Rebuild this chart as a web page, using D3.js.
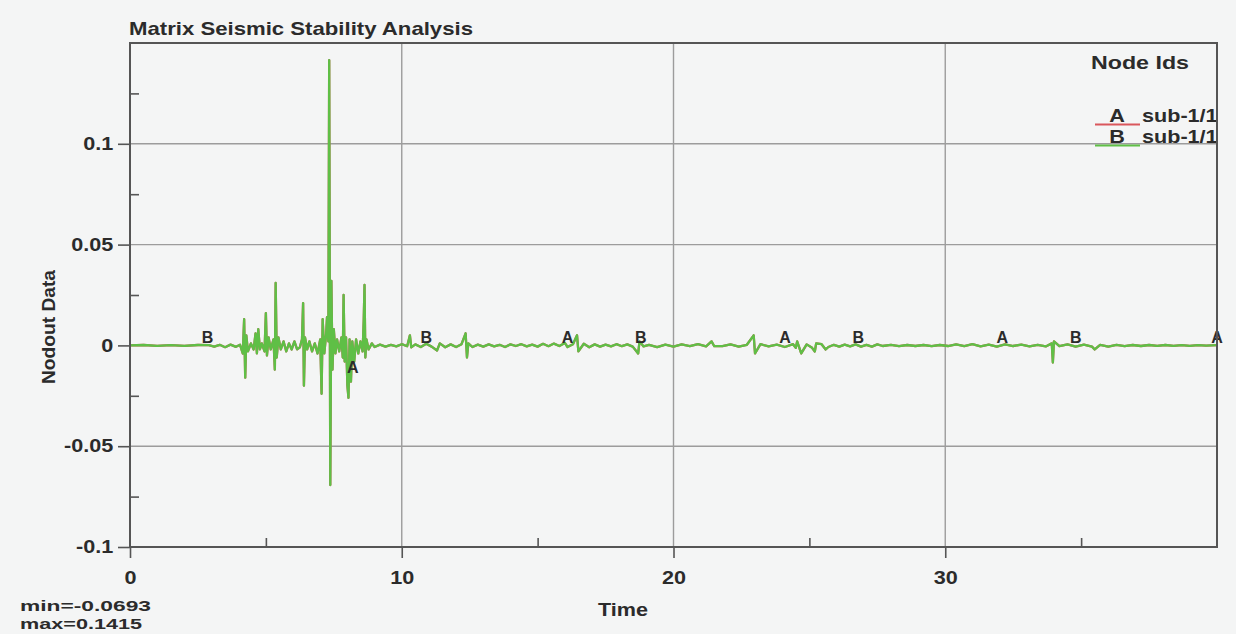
<!DOCTYPE html>
<html>
<head>
<meta charset="utf-8">
<script src="https://cdn.jsdelivr.net/npm/d3@7"></script>
<style>
  html, body { margin: 0; padding: 0; background: #f4f5f5; }
  svg { display: block; }
  text { font-family: "Liberation Sans", Arial, sans-serif; font-weight: bold; fill: #2b2b2b; }
</style>
</head>
<body>
<svg id="chart" width="1236" height="634"></svg>
<script>
// Time (s) of each sample of the nodal trace
const timeSteps = [
  0.0, 0.5, 1.0, 1.5, 2.0, 2.5, 2.9, 3.1, 3.3, 3.5, 3.7, 3.9,
  4.05, 4.15, 4.2, 4.24, 4.28, 4.34, 4.45, 4.55, 4.62, 4.67, 4.72, 4.78, 4.85, 4.95,
  5.0, 5.04, 5.1, 5.18, 5.28, 5.33, 5.36, 5.4, 5.46, 5.55, 5.65, 5.75, 5.85, 5.95,
  6.05, 6.15, 6.25, 6.33, 6.37, 6.4, 6.44, 6.52, 6.6, 6.7, 6.8, 6.9,
  7.0, 7.05, 7.09, 7.15, 7.22, 7.25, 7.3, 7.33, 7.37, 7.41, 7.45, 7.5, 7.56, 7.62, 7.7, 7.78, 7.83, 7.86, 7.9, 7.95,
  8.0, 8.04, 8.08, 8.13, 8.18, 8.25, 8.32, 8.4, 8.48, 8.56, 8.6, 8.63, 8.66, 8.7, 8.78, 8.9,
  9.0, 9.2, 9.4, 9.6, 9.8, 10.0, 10.2, 10.3, 10.35, 10.5, 10.7, 10.9,
  11.1, 11.3, 11.4, 11.6, 11.8, 12.0, 12.2, 12.35, 12.4, 12.45, 12.6, 12.8,
  13.0, 13.2, 13.4, 13.6, 13.8, 14.0, 14.2, 14.4, 14.6, 14.8,
  15.0, 15.2, 15.4, 15.6, 15.8, 16.0, 16.1, 16.3, 16.45, 16.5, 16.7, 16.9,
  17.1, 17.3, 17.5, 17.7, 17.9, 18.1, 18.3, 18.5, 18.7, 18.75, 18.9,
  19.1, 19.4, 19.7, 20.0, 20.3, 20.6, 20.9, 21.2, 21.4, 21.5, 21.8,
  22.1, 22.4, 22.7, 22.95, 23.0, 23.2, 23.5, 23.8, 24.1, 24.4, 24.5, 24.55, 24.7, 24.9,
  25.1, 25.2, 25.25, 25.45, 25.6, 25.7, 25.9, 26.1, 26.3, 26.5, 26.7, 26.9,
  27.1, 27.3, 27.5, 27.7, 28.0, 28.3, 28.6, 28.9, 29.2, 29.5, 29.8,
  30.1, 30.4, 30.7, 31.0, 31.3, 31.6, 31.9, 32.2, 32.5, 32.8,
  33.1, 33.4, 33.7, 33.92, 33.96, 34.0, 34.2, 34.5, 34.8,
  35.1, 35.4, 35.5, 35.7, 36.0, 36.3, 36.6, 36.9, 37.2, 37.5, 37.8,
  38.1, 38.4, 38.7, 39.0, 39.3, 39.6, 40.0
];

// Nodout data of node sub-1/1 (curve B)
const nodeB = [
  0.0, 0.0002, -0.0002, 0.0001, -0.0002, 0.0002, 0.0001, -0.0006, 0.0003, -0.0009, 0.0004, -0.0007,
  0.0003, -0.004, 0.013, -0.016, 0.005, -0.003, 0.001, -0.002, 0.006, -0.004, 0.008, -0.002, 0.001, -0.003,
  0.016, -0.005, 0.004, -0.002, 0.003, -0.012, 0.031, -0.006, 0.004, -0.002, 0.002, -0.003, 0.001, -0.002,
  0.002, -0.002, -0.001, 0.003, 0.021, -0.020, 0.004, -0.002, 0.002, -0.003, 0.001, -0.004,
  0.003, -0.024, 0.013, -0.004, 0.006, 0.014, 0.002, 0.1415, -0.0693, 0.032, -0.012, 0.008, -0.004, 0.003, -0.003, 0.004, -0.006, 0.025, -0.008, 0.004,
  -0.020, -0.026, 0.003, -0.018, 0.002, -0.008, 0.003, -0.004, 0.002, -0.003, 0.012, 0.030, -0.006, 0.003, -0.002, 0.001,
  -0.0008, 0.0004, -0.0006, 0.0003, -0.0005, 0.0006, -0.0004, 0.005, -0.001, 0.0005, -0.0008, 0.0008,
  -0.0006, -0.0025, 0.001, -0.0009, 0.0005, -0.0008, 0.0006, 0.006, -0.006, 0.001, -0.0008, 0.0004,
  -0.0006, 0.0005, -0.0005, 0.0003, -0.0008, 0.0005, -0.0003, 0.0006, -0.0005, 0.0004,
  -0.0006, 0.0008, -0.0004, 0.0009, -0.0003, 0.0012, -0.0008, 0.0006, 0.005, -0.003, 0.0008, -0.0009,
  0.0005, -0.0006, 0.0004, -0.0005, 0.0006, -0.0004, 0.0005, -0.0006, -0.004, 0.002, -0.0005,
  0.0003, -0.0009, 0.0004, -0.0006, 0.0005, -0.0003, 0.0006, -0.0005, 0.002, -0.0004, -0.0004,
  0.0005, -0.0006, 0.0003, 0.005, -0.004, 0.0006, -0.0005, 0.0004, -0.0008, 0.0006, -0.0012, 0.002, -0.004, 0.0005,
  -0.0012, -0.003, 0.001, 0.0006, -0.002, -0.0008, 0.0003, -0.0006, 0.0004, -0.0005, 0.0005, -0.0006,
  0.0003, -0.0006, 0.0005, -0.0003, 0.0003, -0.0004, 0.0002, -0.0003, 0.0002, -0.0004, 0.0002,
  -0.0003, 0.0005, -0.0004, 0.0006, -0.0005, 0.0004, -0.0006, 0.0005, -0.0003, 0.0004,
  -0.0005, 0.0003, -0.0005, 0.001, -0.0085, 0.002, -0.0004, 0.0005, -0.0006,
  0.0004, -0.0006, -0.002, 0.0003, -0.0006, 0.0003, -0.0004, 0.0002, -0.0003, 0.0002, -0.0002,
  0.0002, -0.0002, 0.0001, -0.0002, 0.0001, -0.0001, 0.0001
];

// Curve A refers to the same node id, so its samples coincide with curve B
const nodeA = nodeB.slice();

// Curve identification letters placed along each trace
const labelTimesA = [8.2, 16.1, 24.1, 32.1, 40.0];
const labelValuesA = [-0.0145, 0.0, 0.0, 0.0, 0.0];
const labelTimesB = [2.85, 10.9, 18.8, 26.8, 34.8];
const labelValuesB = [0.0, 0.0, 0.0, 0.0, 0.0];

// Axis ticks
const xMajorTicks = [0, 10, 20, 30];
const xMinorTicks = [5, 15, 25, 35];
const yMajorTicks = [-0.1, -0.05, 0, 0.05, 0.1];
const yTickLabels = ["-0.1", "-0.05", "0", "0.05", "0.1"];
const yMinorTicks = [-0.075, -0.025, 0.025, 0.075, 0.125];

const legendLetters = ["A", "B"];
const legendNames = ["sub-1/1", "sub-1/1"];
const curveColors = ["#d9575c", "#5fbf46"];

const plot = { left: 130, top: 43, right: 1217, bottom: 547 };

const svg = d3.select("#chart");
const x = d3.scaleLinear().domain([0, 40]).range([plot.left, plot.right]);
const y = d3.scaleLinear().domain([-0.1, 0.15]).range([plot.bottom, plot.top]);

// widen glyphs horizontally, as the plotting package renders them
function stretch(sel, k) {
  sel.each(function () {
    const w = this.getComputedTextLength();
    this.setAttribute("textLength", w * k);
    this.setAttribute("lengthAdjust", "spacingAndGlyphs");
  });
}
function fitTo(sel, len) {
  sel.attr("textLength", len).attr("lengthAdjust", "spacingAndGlyphs");
}
const K = 1.2;

// grid
const grid = svg.append("g").attr("stroke", "#9c9c9c").attr("stroke-width", 1.4);
grid.selectAll("line.gx").data([10, 20, 30]).join("line")
  .attr("x1", d => x(d)).attr("x2", d => x(d))
  .attr("y1", plot.top).attr("y2", plot.bottom);
grid.selectAll("line.gy").data([-0.05, 0.05, 0.1]).join("line")
  .attr("x1", plot.left).attr("x2", plot.right)
  .attr("y1", d => y(d)).attr("y2", d => y(d));

// traces
const line = d3.line().x((d, i) => x(timeSteps[i])).y(d => y(d));
[nodeA, nodeB].forEach((series, k) => {
  svg.append("path")
    .attr("d", line(series))
    .attr("fill", "none")
    .attr("stroke", curveColors[k])
    .attr("stroke-width", 2.3)
    .attr("stroke-linejoin", "round");
});

// curve letters
const gA = svg.append("g");
gA.selectAll("text").data(labelTimesA).join("text")
  .attr("x", d => x(d)).attr("y", (d, i) => y(labelValuesA[i]) - 2)
  .attr("text-anchor", "middle").attr("font-size", 16).text("A");
const gB = svg.append("g");
gB.selectAll("text").data(labelTimesB).join("text")
  .attr("x", d => x(d)).attr("y", (d, i) => y(labelValuesB[i]) - 2)
  .attr("text-anchor", "middle").attr("font-size", 16).text("B");

// axes
const axisStroke = "#555";
const gx = svg.append("g").attr("transform", `translate(0,${plot.bottom})`)
  .call(d3.axisBottom(x).tickValues(xMajorTicks).tickSize(11).tickFormat(d3.format("d")));
const gxm = svg.append("g").attr("transform", `translate(0,${plot.bottom})`)
  .call(d3.axisBottom(x).tickValues(xMinorTicks).tickSize(-9).tickFormat(""));
const gy = svg.append("g").attr("transform", `translate(${plot.left},0)`)
  .call(d3.axisLeft(y).tickValues(yMajorTicks).tickSize(12).tickFormat((d, i) => yTickLabels[i]));
const gym = svg.append("g").attr("transform", `translate(${plot.left},0)`)
  .call(d3.axisLeft(y).tickValues(yMinorTicks).tickSize(-9).tickFormat(""));
[gx, gxm, gy, gym].forEach(g => {
  g.select(".domain").remove();
  g.selectAll(".tick line").attr("stroke", axisStroke).attr("stroke-width", 1.6);
  g.selectAll(".tick text").attr("font-size", 18).attr("fill", "#2b2b2b")
    .attr("font-family", null);
});
gx.selectAll(".tick text").attr("dy", "1.3em");
gy.selectAll(".tick text").attr("dx", "-0.1em");
stretch(gx.selectAll(".tick text"), K);
stretch(gy.selectAll(".tick text"), K);

// legend
const lg = svg.append("g");
fitTo(lg.append("text").attr("x", 1140).attr("y", 69).attr("text-anchor", "middle")
  .attr("font-size", 19).text("Node Ids"), 98);
legendLetters.forEach((L, i) => {
  const by = 122 + i * 21;
  lg.append("line").attr("x1", 1095).attr("x2", 1140)
    .attr("y1", by + 2.5).attr("y2", by + 2.5)
    .attr("stroke", curveColors[i]).attr("stroke-width", 1.8);
  stretch(lg.append("text").attr("x", 1117).attr("y", by).attr("text-anchor", "middle")
    .attr("font-size", 18).text(L), K);
  stretch(lg.append("text").attr("x", 1142).attr("y", by)
    .attr("font-size", 18).text(legendNames[i]), K);
});

// plot frame
svg.append("rect")
  .attr("x", plot.left).attr("y", plot.top)
  .attr("width", plot.right - plot.left).attr("height", plot.bottom - plot.top)
  .attr("fill", "none").attr("stroke", axisStroke).attr("stroke-width", 2);

// title and axis titles
fitTo(svg.append("text").attr("x", 129).attr("y", 35).attr("font-size", 19)
  .text("Matrix Seismic Stability Analysis"), 344);
fitTo(svg.append("text").attr("x", 623).attr("y", 616).attr("text-anchor", "middle")
  .attr("font-size", 19).text("Time"), 50);
fitTo(svg.append("text")
  .attr("transform", `translate(55,327) rotate(-90)`)
  .attr("text-anchor", "middle").attr("font-size", 19).text("Nodout Data"), 114);

// extreme values of the trace
const minVal = d3.min(nodeB), maxVal = d3.max(nodeB);
fitTo(svg.append("text").attr("x", 20).attr("y", 611).attr("font-size", 15)
  .text("min=" + minVal.toFixed(4)), 131);
fitTo(svg.append("text").attr("x", 20).attr("y", 628.5).attr("font-size", 15)
  .text("max=" + maxVal.toFixed(4)), 122);
</script>
</body>
</html>
